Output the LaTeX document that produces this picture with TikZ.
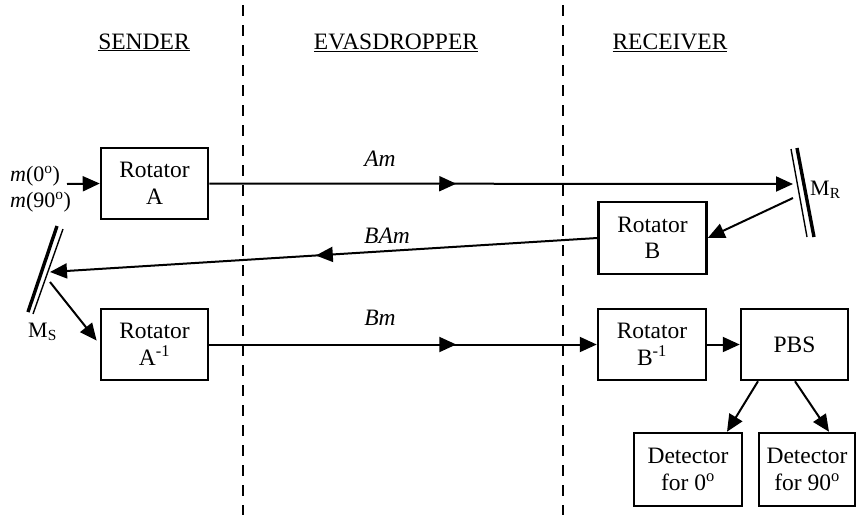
\documentclass[tikz,border=0pt]{standalone}
\usepackage{fontspec}
\setmainfont{Liberation Serif}
\usetikzlibrary{arrows.meta,decorations.markings,calc}
\begin{document}
\begin{tikzpicture}[x=1pt,y=-1pt,
  box/.style={draw, line width=2.5pt, minimum width=107pt, minimum height=71pt,
    align=center, inner sep=0pt, font=\fontsize{23.5}{26.5}\selectfont},
  tip/.style={-{Triangle[length=17pt,width=15pt]}},
  conn/.style={line width=2pt, tip},
  midarrow/.style={postaction={decorate, decoration={markings,
      mark=at position #1 with {\arrow{Triangle[length=17pt,width=15pt]}}}}},
  sep/.style={line width=2.6pt, dash pattern=on 11pt off 9pt},
  head/.style={font=\fontsize{23.5}{26}\selectfont, anchor=base},
  lbl/.style={font=\fontsize{23.5}{26}\selectfont\itshape},
  mlbl/.style={font=\fontsize{22}{24}\selectfont},
  inlbl/.style={anchor=base west, font=\fontsize{22}{26}\selectfont, inner sep=0pt}
]
\useasboundingbox (0,0) rectangle (857,515);

% separators
\coordinate (s1t) at (243,5);
\coordinate (s1b) at (243,515);
\coordinate (s2t) at (563,5);
\coordinate (s2b) at (563,515);
\draw[sep] (s1t) -- (s1b);
\draw[sep] (s2t) -- (s2b);

% headings
\node[head] (hs) at (144,49) {\underline{SENDER}};
\node[head] (he) at (396,49) {\underline{EVASDROPPER}};
\node[head] (hr) at (670,49) {\underline{RECEIVER}};

% boxes
\node[box] (rotA) at (154.5,183.5) {Rotator\\A};
\node[box, minimum width=108pt, minimum height=72pt] (rotB) at (652.5,238) {Rotator\\B};
\node[box] (rotAi) at (154.5,344.5) {Rotator\\A\textsuperscript{-1}};
\node[box, minimum width=108pt] (rotBi) at (652,344.5) {Rotator\\B\textsuperscript{-1}};
\node[box] (pbs) at (794.5,344.5) {PBS};
\node[box, minimum width=108pt, minimum height=73pt] (det0) at (688,469.5) {Detector\\for 0\textsuperscript{o}};
\node[box, minimum width=96pt, minimum height=73pt] (det90) at (807,469.5) {Detector\\for 90\textsuperscript{o}};

% input labels
\node[inlbl] (m0) at (10,181) {\textit{m}(0\textsuperscript{o})};
\node[inlbl] (m90) at (10,207) {\textit{m}(90\textsuperscript{o})};
\coordinate (in) at (67,184);
\draw[conn] (in) -- (rotA.west);

% mirror M_R
\draw[line width=1.4pt] (791,149) -- (807,237);
\draw[line width=3.4pt] (797,148) -- (814,237);
\node[mlbl, anchor=base west, inner sep=0pt] (mr) at (810,195) {M\textsubscript{R}};
\coordinate (MRin) at (793,184);
\coordinate (MRout) at (793,198);

% mirror M_S
\draw[line width=3.4pt] (57,226) -- (28,312);
\draw[line width=1.4pt] (63,229) -- (33,314);
\node[mlbl, anchor=base west, inner sep=0pt] (ms) at (28,337) {M\textsubscript{S}};
\coordinate (MSin) at (50,272);
\coordinate (MSout) at (50,282);

% beams
\draw[conn, midarrow=247pt] (rotA.east) -- (MRin);
\node[lbl] (am) at (380,159) {Am};
\draw[conn] (MRout) -- (rotB.east);
\draw[conn, midarrow=282pt] (rotB.west) -- (MSin);
\node[lbl] (bam) at (387,236) {BAm};
\draw[conn, shorten >=5pt] (MSout) -- (rotAi.west);
\draw[conn, midarrow=247pt] (rotAi.east) -- (rotBi.west);
\node[lbl] (bm) at (380,318) {Bm};
\draw[conn] (rotBi.east) -- (pbs.west);
\draw[conn] ($(pbs.south)+(-36.5,0)$) -- ($(det0.north)+(39,0)$);
\draw[conn] ($(pbs.south)+(0.5,0)$) -- ($(det90.north)+(22,0)$);
\end{tikzpicture}
\end{document}
